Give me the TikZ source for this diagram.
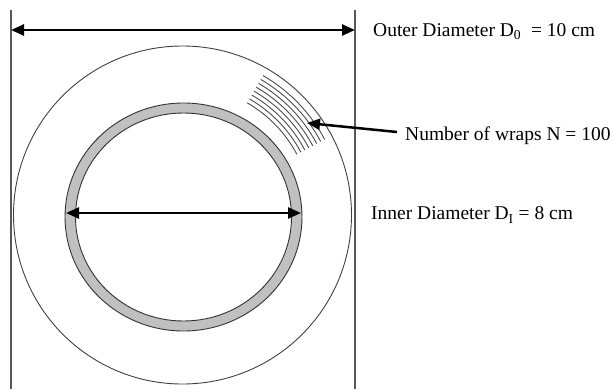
\documentclass[tikz,border=0pt]{standalone}
\usepackage{fontspec}
\setmainfont{Liberation Serif}
\usetikzlibrary{arrows.meta, positioning}
\definecolor{ringgray}{RGB}{192,192,192}

\begin{document}
\begin{tikzpicture}[x=1pt, y=-1pt,
    note/.style={font=\fontsize{19.5}{23}\selectfont, inner sep=0pt, anchor=west},
    dim/.style={line width=2.5pt, {Triangle[length=13pt,width=11pt]}-{Triangle[length=13pt,width=11pt]}},
    pointer/.style={line width=2.5pt, -{Triangle[length=13pt,width=11pt]}},
    guide/.style={draw=black!65, line width=1.2pt},
    wrap/.style={draw=black!70, line width=0.9pt}
]
\useasboundingbox (0,0) rectangle (614,389);

% centres
\coordinate (oc) at (182.5,215);
\coordinate (ic) at (183.5,217);

% outer tape and core
\draw[black!75, line width=0.9pt] (oc) circle[radius=169];
\draw[black!80, line width=0.9pt, fill=ringgray, even odd rule]
  (ic) ellipse[x radius=118.5, y radius=114] (ic) ellipse[x radius=108, y radius=104];

% wraps
\foreach \r in {161,156.5,152,147.5,143,138.5,134,129.5}
  \draw[wrap] (oc) ++(-60:\r) arc[start angle=-60, end angle=-28, radius=\r];

% guide lines
\coordinate (gl1) at (11,10);
\coordinate (gl2) at (11,389);
\coordinate (gr1) at (355,10);
\coordinate (gr2) at (355,389);
\draw[guide] (gl1) -- (gl2);
\draw[guide] (gr1) -- (gr2);

% dimension arrows
\coordinate (ol) at (11,30);
\coordinate (or) at (355,30);
\coordinate (il) at (66,213);
\coordinate (ir) at (301,213);
\draw[dim] (ol) -- (or);
\draw[dim] (il) -- (ir);

% labels
\node[note] (outer) at (373,32) {Outer Diameter D\textsubscript{0}\ \ = 10 cm};
\node[note] (wraps) at (405,136) {Number of wraps N = 100};
\node[note] (inner) at (371,215) {Inner Diameter D\textsubscript{I} = 8 cm};

\coordinate (wtail) at (397,132);
\coordinate (wtip) at (307,123);
\draw[pointer] (wtail) -- (wtip);
\end{tikzpicture}
\end{document}
